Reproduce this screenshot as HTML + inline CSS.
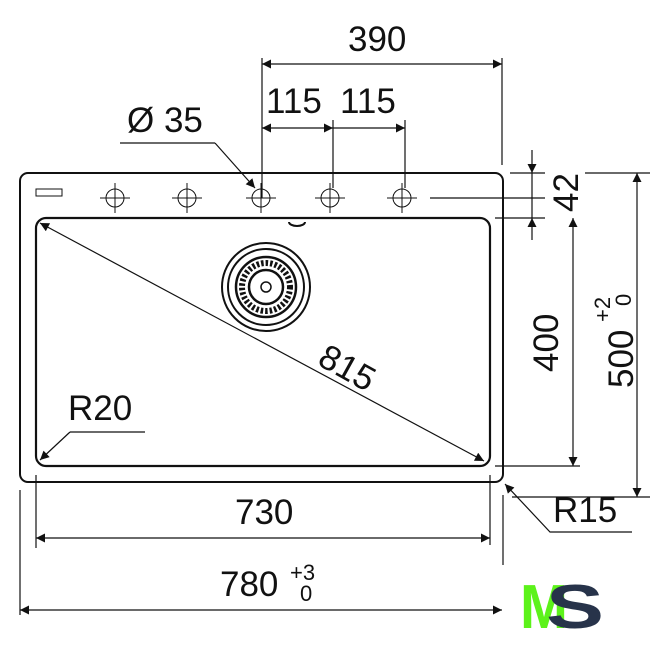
<!DOCTYPE html><html><head><style>body{margin:0;background:#fff}</style></head><body>
<svg width="666" height="640" xmlns="http://www.w3.org/2000/svg" font-family="Liberation Sans, Arial, sans-serif">
<defs><marker id="a" viewBox="0 0 10 10" refX="10" refY="5" markerWidth="20" markerHeight="9" markerUnits="userSpaceOnUse" orient="auto-start-reverse"><path d="M0,0L10,5L0,10z" fill="#111"/></marker></defs>
<g fill="none" stroke="#111">
<rect x="20" y="173" width="483" height="309" rx="8" stroke-width="2"/>
<rect x="36" y="218" width="454" height="248" rx="10" stroke-width="2.2"/>
<rect x="36" y="189" width="26" height="7" stroke-width="1"/>
<path d="M289 222 a8 4 0 0 0 16 0" stroke-width="2"/>
<g stroke-width="1">
<g id="h"><circle cx="115" cy="198" r="9"/><path d="M100 198h30M115 183v30"/></g>
<use href="#h" x="72"/><use href="#h" x="146"/><use href="#h" x="215"/><use href="#h" x="287"/>
</g>
<circle cx="266" cy="287" r="44" stroke-width="2"/>
<circle cx="266" cy="287" r="38" stroke-width="2"/>
<circle cx="266" cy="287" r="30" stroke-width="2.5"/>
<circle cx="266" cy="287" r="24" stroke-width="6" stroke-dasharray="2.5 2"/>
<circle cx="266" cy="287" r="17" stroke-width="2.5"/>
<circle cx="266" cy="287" r="5" stroke-width="1.5"/>
<g stroke-width="1.2">
<path d="M40 223L484 461" marker-start="url(#a)" marker-end="url(#a)"/>
<path d="M262 58V198M502 58V165"/>
<path d="M262 64H502" marker-start="url(#a)" marker-end="url(#a)"/>
<path d="M333 120V188M405 120V188"/>
<path d="M262 128H333" marker-start="url(#a)" marker-end="url(#a)"/>
<path d="M333 128H405" marker-end="url(#a)"/>
<path d="M120 143H215"/>
<path d="M215 143L255 188" marker-end="url(#a)"/>
<path d="M510 173H545M430 198H545M495 218H545"/>
<path d="M532 150V173" marker-end="url(#a)"/>
<path d="M532 240V218" marker-end="url(#a)"/>
<path d="M532 173V218"/>
<path d="M573 218V466" marker-start="url(#a)" marker-end="url(#a)"/>
<path d="M495 466H580M585 173H650M512 497H650"/>
<path d="M637 173V497" marker-start="url(#a)" marker-end="url(#a)"/>
<path d="M36 475V548M490 475V545M20 490V615M503 495V565"/>
<path d="M36 538H490" marker-start="url(#a)" marker-end="url(#a)"/>
<path d="M20 610H502" marker-start="url(#a)" marker-end="url(#a)"/>
<path d="M145 432H70"/>
<path d="M70 432L40 460" marker-end="url(#a)"/>
<path d="M632 532H550L505 484" marker-end="url(#a)"/>
</g></g>
<g fill="#111" font-size="35">
<text x="348" y="51">390</text>
<text x="266" y="113">115</text><text x="340" y="113">115</text>
<text x="127" y="132">Ø 35</text>
<text x="68" y="420">R20</text>
<text x="553" y="522">R15</text>
<text x="235" y="524">730</text>
<text x="220" y="596">780</text>
<text x="290" y="580" font-size="22">+3</text><text x="300" y="601" font-size="22">0</text>
<text transform="translate(316,364) rotate(29)">815</text>
<text transform="translate(578,212) rotate(-90)">42</text>
<text transform="translate(558,372) rotate(-90)">400</text>
<text transform="translate(633,388) rotate(-90)">500</text>
<text transform="translate(610,322) rotate(-90)" font-size="22">+2</text>
<text transform="translate(631,306) rotate(-90)" font-size="22">0</text>
</g>
<text x="520" y="628" font-size="62" font-weight="bold" fill="#5cf21a" textLength="48" lengthAdjust="spacingAndGlyphs">M</text>
<text x="546" y="628" font-size="62" font-weight="bold" fill="#27334a" textLength="58" lengthAdjust="spacingAndGlyphs">S</text>
</svg></body></html>
